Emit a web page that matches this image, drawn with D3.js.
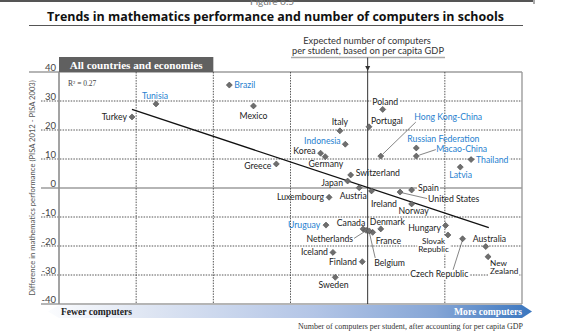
<!DOCTYPE html>
<html><head><meta charset="utf-8">
<script src="https://cdn.jsdelivr.net/npm/d3@7"></script>
<style>body{margin:0;background:#fff}svg{display:block}</style>
</head><body><svg id="c" width="566" height="336"></svg>
<script>
// ---------- data ----------
const countries = ["Turkey","Tunisia","Brazil","Mexico","Poland","Portugal","Italy","Indonesia","Korea","Germany","Greece","Switzerland","Japan","Austria","Ireland","Luxembourg","Spain","United States","Norway","Hong Kong-China","Russian Federation","Macao-China","Thailand","Latvia","Uruguay","Canada","Netherlands","France","Belgium","Denmark","Iceland","Finland","Sweden","Hungary","Slovak Republic","Czech Republic","Australia","New Zealand"];
// relative number of computers per student (after accounting for GDP), arbitrary units 0-6
const computers = [0.946,1.257,2.207,2.52,4.195,4.017,3.64,3.71,3.39,3.45,2.816,3.78,3.74,3.89,4.05,3.50,4.57,4.42,4.57,4.17,4.63,4.63,5.34,5.20,3.46,3.94,3.98,4.065,4.02,4.17,3.55,3.93,3.58,5.01,5.04,5.23,5.53,5.56];
// difference in mathematics performance (PISA 2012 - PISA 2003)
const mathDiff = [24.5,29.0,35.5,28.3,27.1,21.1,19.7,15.1,12.0,10.8,8.3,4.5,2.4,0.1,-1.0,-3.2,-0.7,-1.4,-5.5,11.0,13.8,11.0,9.8,7.2,-12.8,-14.1,-14.6,-15.3,-14.8,-14.1,-22.2,-25.4,-30.8,-12.9,-16.2,-17.5,-20.2,-23.7];
const partners = ["Tunisia","Brazil","Indonesia","Hong Kong-China","Russian Federation","Macao-China","Thailand","Latvia","Uruguay"];
const yTicks = [40,30,20,10,0,-10,-20,-30,-40];
const xGrid = [1,2,3,5];
const expectedX = 4;
const xDomain = [0,6];
const regSlope = -8.82, regIntercept = 35.44, regFrom = 0.946, regTo = 5.57;
const rSquared = "0.27";

// ---------- label layout (offsets from the point, px) ----------
const labelLayout = {
 "Turkey":{a:"end",dx:-5,dy:3},
 "Tunisia":{a:"middle",dx:-1,dy:-5},
 "Brazil":{a:"start",dx:5,dy:3},
 "Mexico":{a:"middle",dx:0,dy:13},
 "Poland":{a:"middle",dx:2.5,dy:-4.6,bg:true},
 "Portugal":{a:"start",dx:2,dy:-2.7},
 "Italy":{a:"middle",dx:0,dy:-5.7},
 "Indonesia":{a:"end",dx:-4.6,dy:-0.6},
 "Korea":{a:"end",dx:-5,dy:0.4},
 "Germany":{a:"middle",dx:0.7,dy:10.3},
 "Greece":{a:"end",dx:-5,dy:5},
 "Switzerland":{a:"start",dx:5,dy:1.3},
 "Japan":{a:"end",dx:-4.6,dy:4.7},
 "Austria":{a:"middle",dx:-6,dy:11},
 "Ireland":{a:"start",dx:-0.6,dy:16},
 "Luxembourg":{a:"end",dx:-5,dy:2.4},
 "Spain":{a:"start",dx:6.4,dy:0.6,bg:true},
 "United States":{a:"start",dx:28,dy:9.7,leader:[1,0.5,27,6.5]},
 "Norway":{a:"middle",dx:2,dy:10},
 "Hong Kong-China":{a:"start",dx:33.5,dy:-36,leader:[2,-2,35,-34]},
 "Russian Federation":{a:"start",dx:-9,dy:-5.6},
 "Macao-China":{a:"start",dx:20,dy:-4.1,leader:[3,-1,19.5,-6.5]},
 "Thailand":{a:"start",dx:5,dy:3,bg:true},
 "Latvia":{a:"middle",dx:0.4,dy:11},
 "Uruguay":{a:"end",dx:-5.7,dy:3},
 "Canada":{a:"middle",dx:-12,dy:-3.3},
 "Netherlands":{a:"end",dx:-13,dy:11.2,leader:[-1,1,-12,8]},
 "France":{a:"start",dx:3,dy:11.4},
 "Belgium":{a:"start",dx:5,dy:35,leader:[0,1,6,27]},
 "Denmark":{a:"middle",dx:6.6,dy:-4},
 "Iceland":{a:"end",dx:-5,dy:3},
 "Finland":{a:"end",dx:-5.4,dy:3.3},
 "Sweden":{a:"middle",dx:-1.7,dy:10.7},
 "Hungary":{a:"end",dx:-4.6,dy:5.7},
 "Slovak Republic":{a:"middle",dx:-14.3,dy:8.6,lines:["Slovak","Republic"],bg:true},
 "Czech Republic":{a:"middle",dx:-23.3,dy:38.3,bg:true,leader:[0,1,-9.5,31]},
 "Australia":{a:"middle",dx:3.7,dy:-4.7},
 "New Zealand":{a:"start",dx:2,dy:9.2,lines:["New","Zealand"],bg:true}
};

// ---------- drawing ----------
const svg = d3.select("#c");
const FONT = "Lato, 'Open Sans', sans-serif";
const LFS = 8.7; // label font size
const x = d3.scaleLinear().domain(xDomain).range([59,522]);
const y = d3.scaleLinear().domain([-40,40]).range([304,72]);
const BLUE = "#1f7fcf";

function fit(sel, w){
  const n = sel.node(); const fs = parseFloat(sel.attr("font-size"));
  const l = n.getComputedTextLength(); sel.attr("font-size", (fs*w/l).toFixed(2));
}

// top strip (cropped page header)
svg.append("line").attr("x1",0).attr("x2",533).attr("y1",1).attr("y2",1).attr("stroke","#555").attr("stroke-width",2);
svg.append("line").attr("x1",534).attr("x2",534).attr("y1",0).attr("y2",4).attr("stroke","#555").attr("stroke-width",1);
svg.append("text").attr("x",250).attr("y",5).attr("font-family",FONT).attr("font-size",10).attr("fill","#777").text("Figure 6.5");

// title
const title = svg.append("text").attr("x",275.5).attr("y",20.5).attr("text-anchor","middle")
 .attr("font-family","'Open Sans', sans-serif").attr("font-weight","bold").attr("font-size",12.5).attr("fill","#111")
 .text("Trends in mathematics performance and number of computers in schools");
fit(title,457);
svg.append("line").attr("x1",29).attr("x2",523).attr("y1",25.5).attr("y2",25.5).attr("stroke","#555").attr("stroke-width",1);

// annotation for expected line
const an1 = svg.append("text").attr("x",367).attr("y",44).attr("text-anchor","middle").attr("font-family",FONT).attr("font-size",9).attr("fill","#333").text("Expected number of computers");
const an2 = svg.append("text").attr("x",368).attr("y",54).attr("text-anchor","middle").attr("font-family",FONT).attr("font-size",9).attr("fill","#333").text("per student, based on per capita GDP");
fit(an2,152); an1.attr("font-size",an2.attr("font-size"));
svg.append("line").attr("x1",291).attr("x2",445).attr("y1",57.5).attr("y2",57.5).attr("stroke","#aaa").attr("stroke-width",1.5);

// horizontal grid
const grid = svg.append("g");
yTicks.forEach(t=>{
  const solid = (t===40||t===0||t===-40);
  grid.append("line").attr("x1", t===40?29:41).attr("x2",x(xDomain[1]))
   .attr("y1",y(t)).attr("y2",y(t))
   .attr("stroke", solid?"#9c9c9c":"#444").attr("stroke-width", solid?1.6:0.9)
   .attr("stroke-dasharray", solid?null:"1.5,1.2");
});
// vertical grid
xGrid.forEach(v=>{
  grid.append("line").attr("x1",x(v)).attr("x2",x(v)).attr("y1",y(40)).attr("y2",y(-40))
   .attr("stroke","#444").attr("stroke-width",0.9).attr("stroke-dasharray","1.5,1.2");
});
// frame sides
grid.append("line").attr("x1",x(xDomain[0])).attr("x2",x(xDomain[0])).attr("y1",y(40)).attr("y2",y(-40)).attr("stroke","#8c8c8c").attr("stroke-width",1.6);
grid.append("line").attr("x1",x(xDomain[1])).attr("x2",x(xDomain[1])).attr("y1",y(40)).attr("y2",y(-40)).attr("stroke","#9c9c9c").attr("stroke-width",1.4);

// y axis labels
const yAxis = d3.axisLeft(y).tickValues(yTicks).tickSize(0).tickPadding(3).tickFormat(d=>String(d));
const ga = svg.append("g").attr("transform",`translate(${x(xDomain[0])},0)`).call(yAxis);
ga.select(".domain").remove();
ga.selectAll("text").attr("dy","-0.15em").attr("font-family",FONT).attr("font-size",9.5).attr("fill","#444");

// y axis title
const yt = svg.append("text").attr("transform","translate(34.5,188) rotate(-90)").attr("text-anchor","middle")
 .attr("font-family",FONT).attr("font-size",8).attr("fill","#555")
 .text("Difference in mathematics performance (PISA 2012 - PISA 2003)");
fit(yt,216);

// legend box
svg.append("rect").attr("x",x(0)).attr("y",57).attr("width",x(2)-x(0)).attr("height",15).attr("fill","#606060");
const lg = svg.append("text").attr("x",(x(0)+x(2))/2).attr("y",68.5).attr("text-anchor","middle")
 .attr("font-family","'Liberation Serif', serif").attr("font-weight","bold").attr("font-size",10).attr("fill","#fff")
 .text("All countries and economies");
fit(lg,133);
svg.append("text").attr("x",68).attr("y",85.5).attr("font-family","'Liberation Serif', serif").attr("font-size",7.5).attr("fill","#444")
 .text("R\u00B2 = "+rSquared);

// expected line + arrow
svg.append("line").attr("x1",x(expectedX)).attr("x2",x(expectedX)).attr("y1",57.5).attr("y2",y(-40)).attr("stroke","#333").attr("stroke-width",1);
svg.append("path").attr("d",`M${x(expectedX)-2.5},66 L${x(expectedX)+2.5},66 L${x(expectedX)},71 Z`).attr("fill","#333");

// label backgrounds layer, regression layer, points, labels
const bgLayer = svg.append("g");
const leaderLayer = svg.append("g");
svg.append("line").attr("x1",x(regFrom)).attr("y1",y(regIntercept+regSlope*regFrom))
 .attr("x2",x(regTo)).attr("y2",y(regIntercept+regSlope*regTo)).attr("stroke","#111").attr("stroke-width",1.3);

const pts = countries.map((c,i)=>({c, vx:computers[i], vy:mathDiff[i], px:x(computers[i]), py:y(mathDiff[i])}));
svg.append("g").selectAll("path").data(pts).join("path")
 .attr("d", d3.symbol().type(d3.symbolSquare).size(18))
 .attr("transform", d=>`translate(${d.px},${d.py}) rotate(45)`)
 .attr("fill","#6e6e6e").attr("stroke","#4d4d4d").attr("stroke-width",0.6);

const labG = svg.append("g");
pts.forEach(d=>{
  const L = labelLayout[d.c];
  const col = partners.includes(d.c) ? BLUE : "#222";
  if(L.leader){
    leaderLayer.append("line").attr("x1",d.px+L.leader[0]).attr("y1",d.py+L.leader[1])
      .attr("x2",d.px+L.leader[2]).attr("y2",d.py+L.leader[3]).attr("stroke","#333").attr("stroke-width",0.6);
  }
  const lines = L.lines || [d.c];
  const multi = lines.length > 1;
  const t = labG.append("text").attr("text-anchor",L.a).attr("font-family",FONT).attr("font-size",multi?8.2:LFS).attr("fill",col);
  lines.forEach((ln,k)=>{
    t.append("tspan").attr("x",d.px+L.dx).attr("y",d.py+L.dy+k*8.3).text(ln);
  });
  if(L.bg){
    const b = t.node().getBBox();
    bgLayer.append("rect").attr("x",b.x-1).attr("y",b.y).attr("width",b.width+2).attr("height",b.height).attr("fill","#fff");
  }
});

// bottom arrow bar
const defs = svg.append("defs");
const gr = defs.append("linearGradient").attr("id","bar").attr("x1","0").attr("x2","1").attr("y1","0").attr("y2","0");
[[0,"#fbfcfe"],[0.2,"#dfe6f3"],[0.55,"#b3c5e6"],[0.8,"#86a6d6"],[1,"#3a76bf"]].forEach(s=>gr.append("stop").attr("offset",s[0]).attr("stop-color",s[1]));
svg.append("path").attr("d","M48,311.5 L59,305 L522,305 L532,311.5 L522,318 L59,318 Z").attr("fill","url(#bar)");
const fc = svg.append("text").attr("x",61).attr("y",315).attr("font-family","'Liberation Serif', serif").attr("font-weight","bold").attr("font-size",9.5).attr("fill","#222").text("Fewer computers");
fit(fc,71);
const mc = svg.append("text").attr("x",522).attr("y",315).attr("text-anchor","end").attr("font-family","'Liberation Serif', serif").attr("font-weight","bold").attr("font-size",9.5).attr("fill","#fff").text("More computers");
fit(mc,68);
const cap = svg.append("text").attr("x",523).attr("y",328.5).attr("text-anchor","end").attr("font-family","'Liberation Serif', serif").attr("font-size",8).attr("fill","#333")
 .text("Number of computers per student, after accounting for per capita GDP");
fit(cap,225);
</script></body></html>
